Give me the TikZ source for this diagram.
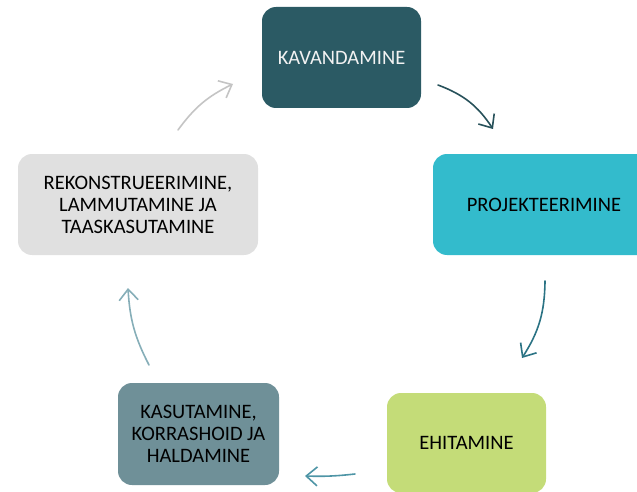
\documentclass[tikz,border=0pt]{standalone}
\usepackage{fontspec}
\setmainfont{Carlito}
\usepackage{xcolor}
\usetikzlibrary{arrows.meta, positioning, calc}
\definecolor{kavcolor}{HTML}{2B5A64}
\definecolor{projcolor}{HTML}{33BBCC}
\definecolor{ehitcolor}{HTML}{C4DC78}
\definecolor{kasutcolor}{HTML}{6F9098}
\definecolor{rekoncolor}{HTML}{E0E0E0}

\begin{document}
\begin{tikzpicture}[
    x=1pt, y=1pt,
    every node/.style={font=\fontsize{20.5}{22}\selectfont},
    stage/.style={rounded corners=14pt, minimum height=101pt, align=center, inner sep=0pt},
    arrow/.style={-{Straight Barb[length=11pt,width=19pt]}, line width=1.6pt, line cap=round},
  ]
  \useasboundingbox (0,0) rectangle (637,-492);
  \clip (0,0) rectangle (637,-492);

  % Stages of the cycle
  \node[stage, fill=kavcolor, text=white!95!black, minimum width=159pt] (kav) at (341.5,-57.5) {KAVANDAMINE};
  \node[stage, fill=projcolor, minimum width=222pt] (proj) at (544,-204.5) {PROJEKTEERIMINE};
  \node[stage, fill=ehitcolor, minimum width=159pt, minimum height=100pt] (ehit) at (466.5,-443) {EHITAMINE};
  \node[stage, fill=kasutcolor, minimum width=161pt, minimum height=102pt] (kasut) at (198.5,-434) {KASUTAMINE,\\KORRASHOID JA\\HALDAMINE};
  \node[stage, fill=rekoncolor, minimum width=240pt] (rekon) at (138,-204.5) {REKONSTRUEERIMINE,\\LAMMUTAMINE JA\\TAASKASUTAMINE};

  % Free ends of the arrows
  \coordinate (a1s) at (438,-85);  \coordinate (a1e) at (493,-129);
  \coordinate (a2s) at (545,-281); \coordinate (a2e) at (522,-358);
  \coordinate (a3s) at (355,-474); \coordinate (a3e) at (305,-476);
  \coordinate (a4s) at (149,-365); \coordinate (a4e) at (128,-288);
  \coordinate (a5s) at (178,-130); \coordinate (a5e) at (233,-84);

  % Arrows between stages
  \draw[arrow, color=kavcolor!90!black] (a1s) to[bend left=18] (a1e);
  \draw[arrow, color={rgb,255:red,43;green,115;blue,132}] (a2s) to[bend left=16] (a2e);
  \draw[arrow, color={rgb,255:red,78;green,149;blue,166}] (a3s) to[bend left=4] (a3e);
  \draw[arrow, color={rgb,255:red,134;green,174;blue,184}] (a4s) to[bend left=12] (a4e);
  \draw[arrow, color={rgb,255:red,196;green,196;blue,196}] (a5s) to[bend left=14] (a5e);
\end{tikzpicture}
\end{document}
